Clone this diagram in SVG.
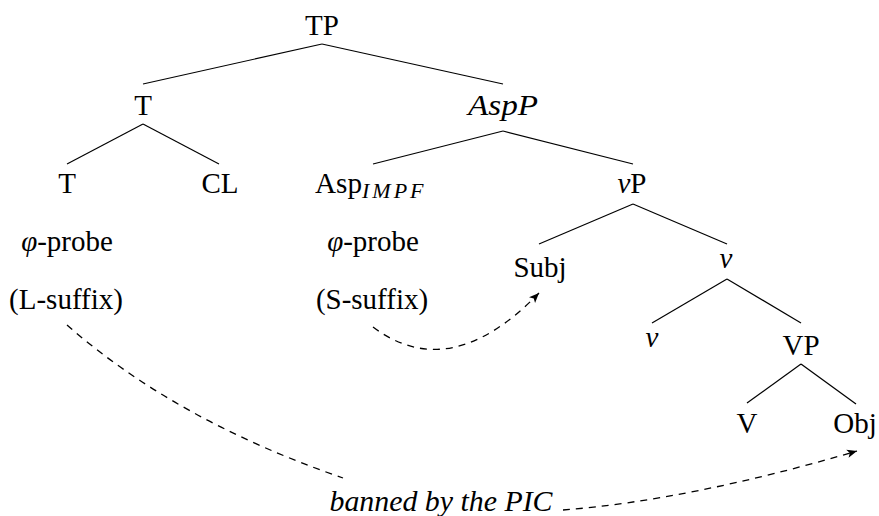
<svg xmlns="http://www.w3.org/2000/svg" width="879" height="516" viewBox="0 0 879 516">
<style>
text{font-family:"Liberation Serif","DejaVu Serif",serif;font-size:29px;fill:#000;text-anchor:middle}
.it{font-style:italic}
.sub{font-size:22px;font-style:italic;text-anchor:start;letter-spacing:3px}
.edge{stroke:#000;stroke-width:1.2;fill:none}
.dash{stroke:#000;stroke-width:1.3;fill:none;stroke-dasharray:7 6}
</style>
<defs>
<marker id="arr" markerUnits="userSpaceOnUse" markerWidth="14" markerHeight="12" refX="10" refY="5" orient="auto">
<path d="M0,0.8 L10,5 L0,9.2 L2.5,5 Z" fill="#000"/>
</marker>
</defs>
<g id="connectors">
<line class="edge" x1="322" y1="44" x2="143" y2="84"/>
<line class="edge" x1="322" y1="44" x2="503" y2="84"/>
<line class="edge" x1="143" y1="124" x2="67" y2="164"/>
<line class="edge" x1="143" y1="124" x2="219" y2="164"/>
<line class="edge" x1="503" y1="131" x2="373" y2="164"/>
<line class="edge" x1="503" y1="131" x2="633" y2="164"/>
<line class="edge" x1="633" y1="204" x2="539" y2="244"/>
<line class="edge" x1="633" y1="204" x2="727" y2="244"/>
<line class="edge" x1="727" y1="279" x2="652" y2="323"/>
<line class="edge" x1="727" y1="279" x2="801" y2="323"/>
<line class="edge" x1="801" y1="364" x2="747" y2="403"/>
<line class="edge" x1="801" y1="364" x2="856" y2="404"/>
<path class="dash" d="M373,327 Q450,385 539,293" marker-end="url(#arr)"/>
<path class="dash" d="M67,325 Q175,420 343,478"/>
<path class="dash" d="M563,510 Q690,500 857,451" marker-end="url(#arr)"/>
</g>
<g id="TP"><text x="322" y="35">TP</text></g>
<g id="T1"><text x="143" y="115">T</text></g>
<g id="AspP"><text class="it" x="503" y="115" textLength="70" lengthAdjust="spacingAndGlyphs">AspP</text></g>
<g id="T2"><text x="67" y="193">T</text></g>
<g id="CL"><text x="220" y="193">CL</text></g>
<g id="Asp"><text x="315" y="193" style="text-anchor:start" textLength="47" lengthAdjust="spacingAndGlyphs">Asp</text><text class="sub" x="362" y="198">IMPF</text></g>
<g id="vP"><text x="632" y="193"><tspan font-style="italic">v</tspan>P</text></g>
<g id="probe1"><text x="67" y="251"><tspan font-style="italic">φ</tspan>-probe</text></g>
<g id="probe2"><text x="373" y="251"><tspan font-style="italic">φ</tspan>-probe</text></g>
<g id="Lsuffix"><text x="66" y="309">(L-suffix)</text></g>
<g id="Ssuffix"><text x="372" y="309">(S-suffix)</text></g>
<g id="Subj"><text x="540" y="277">Subj</text></g>
<g id="vbar"><text class="it" x="726" y="268">v</text></g>
<g id="vhead"><text class="it" x="652" y="347">v</text></g>
<g id="VP"><text x="801" y="355">VP</text></g>
<g id="V"><text x="747" y="433">V</text></g>
<g id="Obj"><text x="855" y="433">Obj</text></g>
<g id="pic"><text class="it" x="441" y="511" textLength="223" lengthAdjust="spacingAndGlyphs">banned by the PIC</text></g>
</svg>
